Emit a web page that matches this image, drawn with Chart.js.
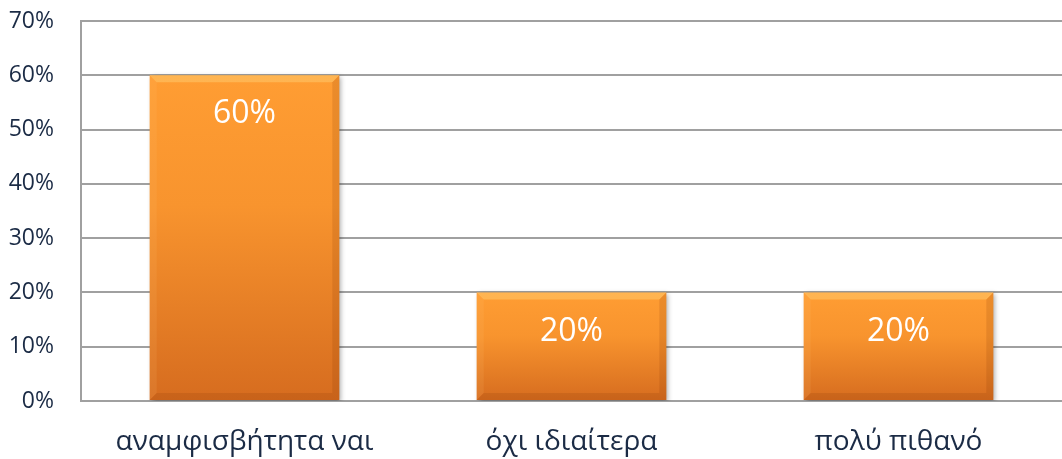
<!DOCTYPE html>
<html>
<head>
<meta charset="utf-8">
<script src="https://cdn.jsdelivr.net/npm/chart.js@4/dist/chart.umd.min.js"></script>
<style>
html, body { margin: 0; padding: 0; background: #fff; }
#wrap { width: 1062px; height: 459px; }
</style>
</head>
<body>
<div id="wrap"><canvas id="barChart" width="1062" height="459"></canvas></div>
<script>
/* data */
const categories = ["αναμφισβήτητα ναι", "όχι ιδιαίτερα", "πολύ πιθανό"];
const values = [60, 20, 20];
const yMax = 70;
const yStep = 10;

const textColor = "#1B2B45";
const gridColor = "#A0A0A0";

/* orange gradient fill, lighter at top */
function barFill(ctx) {
  const chart = ctx.chart;
  const ys = chart.scales && chart.scales.y;
  if (!ys || !chart.chartArea || ctx.raw === undefined) return "#F28C28";
  const top = ys.getPixelForValue(ctx.raw);
  const bottom = ys.getPixelForValue(0);
  if (!isFinite(top) || !isFinite(bottom) || top === bottom) return "#F28C28";
  const g = chart.ctx.createLinearGradient(0, top, 0, bottom);
  g.addColorStop(0, "#FF9D33");
  g.addColorStop(0.4, "#F8942E");
  g.addColorStop(1, "#D66C1F");
  return g;
}

/* shadow + bevel + value labels */
const barDecor = {
  id: "barDecor",
  beforeDatasetsDraw(chart) {
    const c = chart.ctx;
    c.save();
    c.shadowColor = "rgba(0,0,0,0.35)";
    c.shadowBlur = 5;
    c.shadowOffsetX = 2;
    c.shadowOffsetY = 2;
  },
  afterDatasetsDraw(chart) {
    const c = chart.ctx;
    c.restore();
    const meta = chart.getDatasetMeta(0);
    meta.data.forEach((bar, i) => {
      const left = bar.x - bar.width / 2;
      const right = bar.x + bar.width / 2;
      const top = bar.y;
      const bottom = bar.base;
      const b = 7;
      c.save();
      // top bevel
      c.fillStyle = "rgba(255,225,140,0.35)";
      c.beginPath();
      c.moveTo(left, top); c.lineTo(right, top);
      c.lineTo(right - b, top + b); c.lineTo(left + b, top + b);
      c.closePath(); c.fill();
      // left bevel
      c.fillStyle = "rgba(255,200,120,0.12)";
      c.beginPath();
      c.moveTo(left, top); c.lineTo(left + b, top + b);
      c.lineTo(left + b, bottom - b); c.lineTo(left, bottom);
      c.closePath(); c.fill();
      // right bevel
      c.fillStyle = "rgba(120,50,0,0.15)";
      c.beginPath();
      c.moveTo(right, top); c.lineTo(right - b, top + b);
      c.lineTo(right - b, bottom - b); c.lineTo(right, bottom);
      c.closePath(); c.fill();
      // bottom bevel
      c.fillStyle = "rgba(120,50,0,0.15)";
      c.beginPath();
      c.moveTo(left, bottom); c.lineTo(left + b, bottom - b);
      c.lineTo(right - b, bottom - b); c.lineTo(right, bottom);
      c.closePath(); c.fill();
      // value label
      c.fillStyle = "#FFFFFF";
      c.font = "32px 'Open Sans', sans-serif";
      c.textAlign = "center";
      c.textBaseline = "middle";
      c.fillText(values[i] + "%", bar.x, top + 39);
      c.restore();
    });
  }
};

new Chart(document.getElementById("barChart"), {
  type: "bar",
  data: {
    labels: categories,
    datasets: [{
      data: values,
      backgroundColor: barFill,
      borderWidth: 0,
      categoryPercentage: 1,
      barPercentage: 0.58
    }]
  },
  options: {
    responsive: false,
    animation: false,
    layout: { padding: 0 },
    plugins: { legend: { display: false }, tooltip: { enabled: false } },
    scales: {
      x: {
        grid: { display: false },
        border: { display: true, color: gridColor, width: 2 },
        ticks: {
          color: textColor,
          font: { family: "'Open Sans', sans-serif", size: 28 },
          padding: 16
        },
        afterFit(scale) { scale.height = 58; }
      },
      y: {
        min: 0,
        max: yMax,
        ticks: {
          stepSize: yStep,
          color: textColor,
          font: { family: "'Open Sans', sans-serif", size: 23 },
          padding: 27,
          callback: v => v + "%"
        },
        grid: { color: gridColor, lineWidth: 2, drawTicks: false },
        border: { display: true, color: gridColor, width: 2 },
        afterFit(scale) {
          scale.width = 81;
          scale.paddingTop = 21;
          scale.paddingBottom = 0;
        }
      }
    }
  },
  plugins: [barDecor]
});
</script>
</body>
</html>
